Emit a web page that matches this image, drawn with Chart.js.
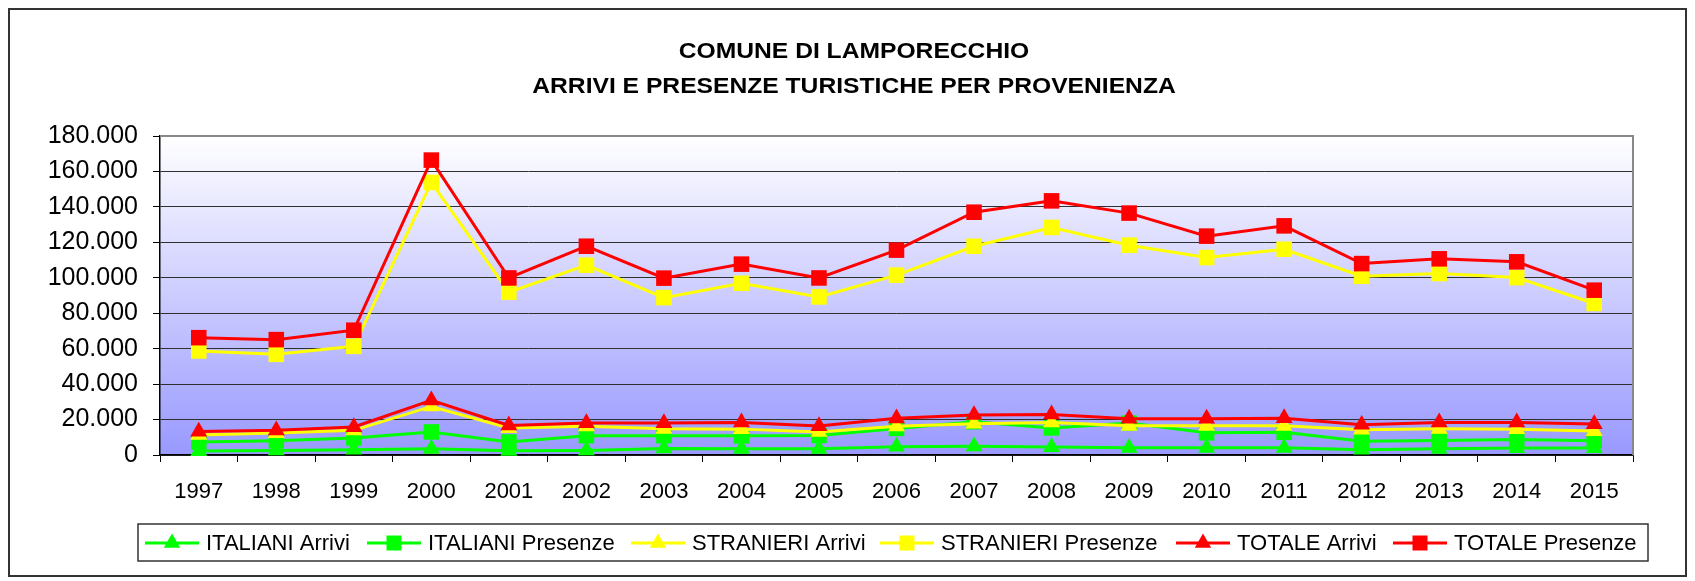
<!DOCTYPE html>
<html>
<head>
<meta charset="utf-8">
<script src="https://cdn.jsdelivr.net/npm/chart.js"></script>
<style>
html,body{margin:0;padding:0;background:#fff;}
#wrap{width:1695px;height:581px;position:relative;}
</style>
</head>
<body>
<div id="wrap"><canvas id="c" width="1695" height="581"></canvas></div>
<script>
// ---------- data ----------
const years = ['1997','1998','1999','2000','2001','2002','2003','2004','2005','2006','2007','2008','2009','2010','2011','2012','2013','2014','2015'];
const italianiArrivi    = [2200, 2600, 3000, 3500, 2400, 2600, 3700, 3500, 3500, 4700, 4900, 4500, 4100, 4100, 4100, 3000, 3500, 3900, 3900];
const italianiPresenze  = [7300, 8100, 9600, 13000, 7300, 10900, 10900, 10800, 11000, 15000, 18800, 15300, 18000, 12500, 12800, 7700, 8200, 8800, 8100];
const stranieriArrivi   = [11300, 12400, 13900, 27400, 15200, 16200, 14800, 14600, 13000, 16200, 17700, 18400, 16500, 16500, 16500, 14300, 14800, 14600, 13500];
const stranieriPresenze = [58700, 56800, 61300, 153800, 91900, 107100, 88800, 96900, 89200, 101500, 117800, 128400, 118400, 111400, 116100, 100900, 102400, 100100, 85500];
const totaleArrivi      = [13200, 13900, 15800, 30800, 16700, 18000, 18000, 18400, 16300, 20700, 22600, 22900, 20500, 20500, 20800, 17100, 18400, 18400, 17500];
const totalePresenze    = [66200, 65100, 70400, 166400, 99900, 117800, 99800, 107700, 99900, 115600, 137000, 143400, 136500, 123500, 129300, 108000, 110700, 109000, 93000];
const seriesNames = ['ITALIANI Arrivi','ITALIANI Presenze','STRANIERI Arrivi','STRANIERI Presenze','TOTALE Arrivi','TOTALE Presenze'];
const yTickLabels = ['0','20.000','40.000','60.000','80.000','100.000','120.000','140.000','160.000','180.000'];
const titleLines = ['COMUNE DI LAMPORECCHIO','ARRIVI E PRESENZE TURISTICHE PER PROVENIENZA'];

// ---------- styling ----------
const FONT = "'Liberation Sans', Arial, sans-serif";
const GREEN = '#00ff00', YELLOW = '#ffff00', RED = '#ff0000';
const seriesData = [italianiArrivi, italianiPresenze, stranieriArrivi, stranieriPresenze, totaleArrivi, totalePresenze];
const seriesColors = [GREEN, GREEN, YELLOW, YELLOW, RED, RED];
const seriesShapes = ['triangle','rect','triangle','rect','triangle','rect'];
const legendStarts = [145, 367, 631, 880, 1176, 1393];

const datasets = seriesNames.map((name, i) => ({
  label: name,
  data: seriesData[i],
  borderColor: seriesColors[i],
  backgroundColor: seriesColors[i],
  pointBackgroundColor: seriesColors[i],
  pointBorderColor: seriesColors[i],
  pointBorderWidth: 0,
  pointStyle: seriesShapes[i],
  pointRadius: seriesShapes[i] === 'triangle' ? 9.8 : 11,
  pointHoverRadius: seriesShapes[i] === 'triangle' ? 9.8 : 11,
  borderWidth: 3,
  tension: 0,
  fill: false,
  clip: false,
  order: seriesNames.length - i
}));

function drawMarker(ctx, shape, x, y, color) {
  ctx.save();
  ctx.fillStyle = color;
  ctx.beginPath();
  if (shape === 'triangle') {
    const r = 9.5;
    ctx.moveTo(x, y - r);
    ctx.lineTo(x + r * Math.sin(2 * Math.PI / 3), y + r / 2);
    ctx.lineTo(x - r * Math.sin(2 * Math.PI / 3), y + r / 2);
    ctx.closePath();
  } else {
    ctx.rect(x - 7.5, y - 7.5, 15, 15);
  }
  ctx.fill();
  ctx.restore();
}

const decorPlugin = {
  id: 'decor',
  beforeDraw(chart) {
    const ctx = chart.ctx;
    const a = chart.chartArea;
    ctx.save();
    ctx.fillStyle = '#ffffff';
    ctx.fillRect(0, 0, chart.width, chart.height);
    ctx.strokeStyle = '#333333';
    ctx.lineWidth = 2;
    ctx.strokeRect(9, 9, 1677, 567);
    const g = ctx.createLinearGradient(0, a.top, 0, a.bottom);
    g.addColorStop(0, '#ffffff');
    g.addColorStop(1, '#9999ff');
    ctx.fillStyle = g;
    ctx.fillRect(a.left, a.top, a.right - a.left, a.bottom - a.top);
    ctx.restore();
  },
  beforeDatasetsDraw(chart) {
    const ctx = chart.ctx;
    const a = chart.chartArea;
    ctx.save();
    ctx.strokeStyle = '#888888';
    ctx.lineWidth = 2;
    ctx.beginPath();
    ctx.moveTo(a.left, a.top);
    ctx.lineTo(a.right, a.top);
    ctx.lineTo(a.right, a.bottom);
    ctx.stroke();
    ctx.restore();
  },
  afterDraw(chart) {
    const ctx = chart.ctx;
    ctx.save();
    ctx.fillStyle = '#000';
    ctx.font = 'bold 22px ' + FONT;
    ctx.textAlign = 'center';
    ctx.textBaseline = 'middle';
    const ty = [52, 87];
    titleLines.forEach((t, i) => {
      ctx.save();
      ctx.translate(854, ty[i]);
      ctx.scale(1.12, 1);
      ctx.fillText(t, 0, 0);
      ctx.restore();
    });
    ctx.font = '22px ' + FONT;
    ctx.textAlign = 'left';
    const ly = 543;
    ctx.fillStyle = '#ffffff';
    ctx.fillRect(138, 524, 1648 - 138, 37);
    ctx.strokeStyle = '#333333';
    ctx.lineWidth = 1.5;
    ctx.strokeRect(138, 524, 1648 - 138, 37);
    chart.data.datasets.forEach((ds, i) => {
      const x = legendStarts[i];
      ctx.strokeStyle = ds.borderColor;
      ctx.lineWidth = 3;
      ctx.beginPath();
      ctx.moveTo(x, ly);
      ctx.lineTo(x + 54, ly);
      ctx.stroke();
      drawMarker(ctx, ds.pointStyle, x + 27, ly, ds.borderColor);
      ctx.fillStyle = '#000';
      ctx.textBaseline = 'middle';
      ctx.fillText(ds.label, x + 61, ly + 1);
    });
    ctx.restore();
  }
};

new Chart(document.getElementById('c'), {
  type: 'line',
  data: { labels: years, datasets },
  options: {
    responsive: false,
    animation: false,
    devicePixelRatio: 1,
    layout: { padding: { left: 0, right: 62, top: 136, bottom: 56 } },
    plugins: {
      legend: { display: false },
      title: { display: false },
      tooltip: { enabled: false }
    },
    scales: {
      x: {
        offset: true,
        grid: { drawOnChartArea: false, drawTicks: true, tickLength: 7, tickColor: '#000', offset: true },
        border: { color: '#000', width: 1.5 },
        ticks: { color: '#000', font: { family: FONT, size: 22 }, padding: 17, autoSkip: false, maxRotation: 0 },
        afterFit(s) { s.height = 70; }
      },
      y: {
        min: 0, max: 180000,
        grid: {
          color: c => (c.tick && c.tick.value === 180000) ? '#888888' : '#303030',
          lineWidth: 1,
          tickLength: 7,
          tickColor: '#000'
        },
        border: { color: '#000', width: 1.5 },
        ticks: {
          stepSize: 20000,
          color: '#000',
          font: { family: FONT, size: 25 },
          padding: 15,
          callback: (v) => yTickLabels[Math.round(v / 20000)]
        },
        afterFit(s) { s.width = 160; }
      }
    }
  },
  plugins: [decorPlugin]
});
</script>
</body>
</html>
